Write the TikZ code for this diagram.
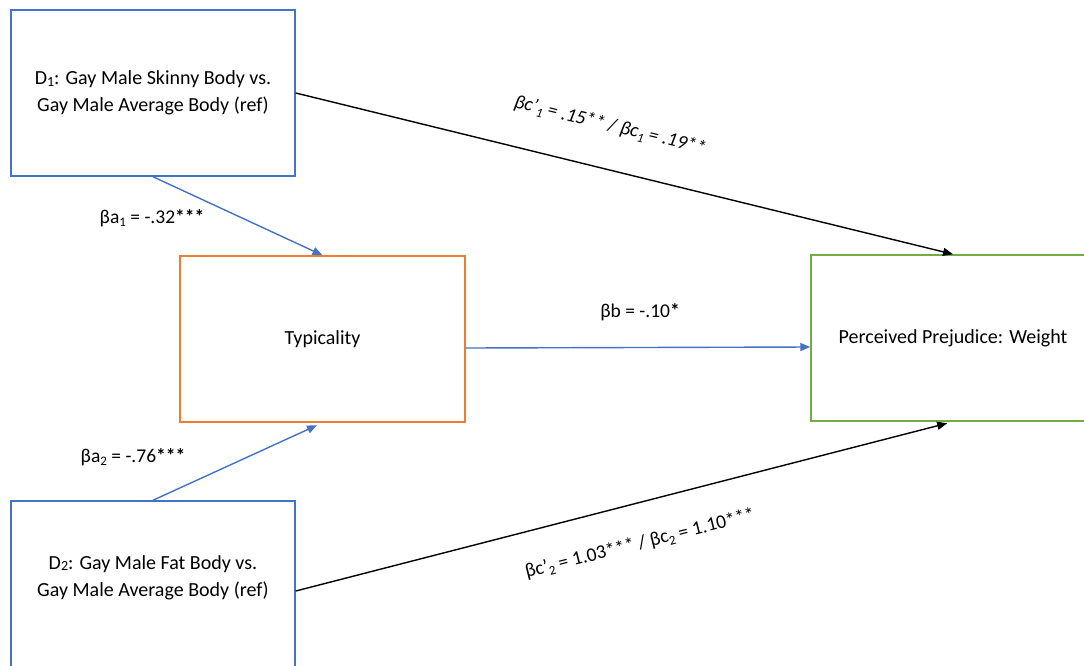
\documentclass[tikz,border=0pt]{standalone}
\usepackage{fontspec}
\setmainfont{Carlito}
\usetikzlibrary{arrows.meta}
\definecolor{cblue}{HTML}{4472C4}
\definecolor{corange}{HTML}{ED7D31}
\definecolor{cgreen}{HTML}{70AD47}
\newcommand{\sbs}[1]{\raisebox{-0.4ex}{\fontsize{13}{13}\selectfont #1}}
\newcommand{\sbd}[1]{\raisebox{-0.15ex}{\fontsize{14}{14}\selectfont #1}}
\begin{document}
\begin{tikzpicture}[x=1pt,y=-1pt,
  box/.style={draw,line width=1.5pt,minimum width=284pt,minimum height=166pt,inner sep=0pt,align=center,font=\fontsize{20}{27}\selectfont},
  lab/.style={font=\fontsize{19.5}{22}\selectfont,inner sep=0pt},
  arr/.style={line width=1.4pt,-{Triangle[length=10pt,width=8pt]}}]
\clip (0,0) rectangle (1084,665);
\fill[white] (0,0) rectangle (1084,665);
\node[box,draw=cblue] (d1) at (153,93) {D\sbd{1}: Gay Male Skinny Body vs.\\Gay Male Average Body (ref)};
\node[box,draw=cblue,minimum height=166pt] (d2) at (153,584) {D\sbd{2}: Gay Male Fat Body vs.\\Gay Male Average Body (ref)\\[-11pt]~};
\node[box,draw=corange,minimum width=285pt] (typ) at (322.5,339) {Typicality};
\node[box,draw=cgreen] (perc) at (953,338) {Perceived Prejudice: Weight};
\draw[arr,cblue] (d1.south) -- (typ.north);
\draw[arr,cblue,shorten >=6pt] (d2.north) -- (typ.south);
\draw[arr,cblue] ([yshift=-9pt]typ.east) -- ([yshift=-9pt]perc.west);
\draw[arr,black] (d1.east) -- (perc.north);
\draw[arr,black,shorten >=6pt] ([yshift=-7pt]d2.east) -- (perc.south);
\node[lab] (la1) at (152,218) {βa\sbs{1} = -.32\textbf{***}};
\node[lab] (la2) at (133,457) {βa\sbs{2} = -.76\textbf{***}};
\node[lab] (lb) at (640,312) {βb = -.10\textbf{*}};
\node[lab,rotate=-13.8] (lc1) at (610,126) {\itshape βc’\sbs{1} = .15** / βc\sbs{1} = .19**};
\node[lab,rotate=14.2] (lc2) at (640,544) {βc’\sbs{2} = 1.03*** / βc\sbs{2} = 1.10***};
\end{tikzpicture}
\end{document}
